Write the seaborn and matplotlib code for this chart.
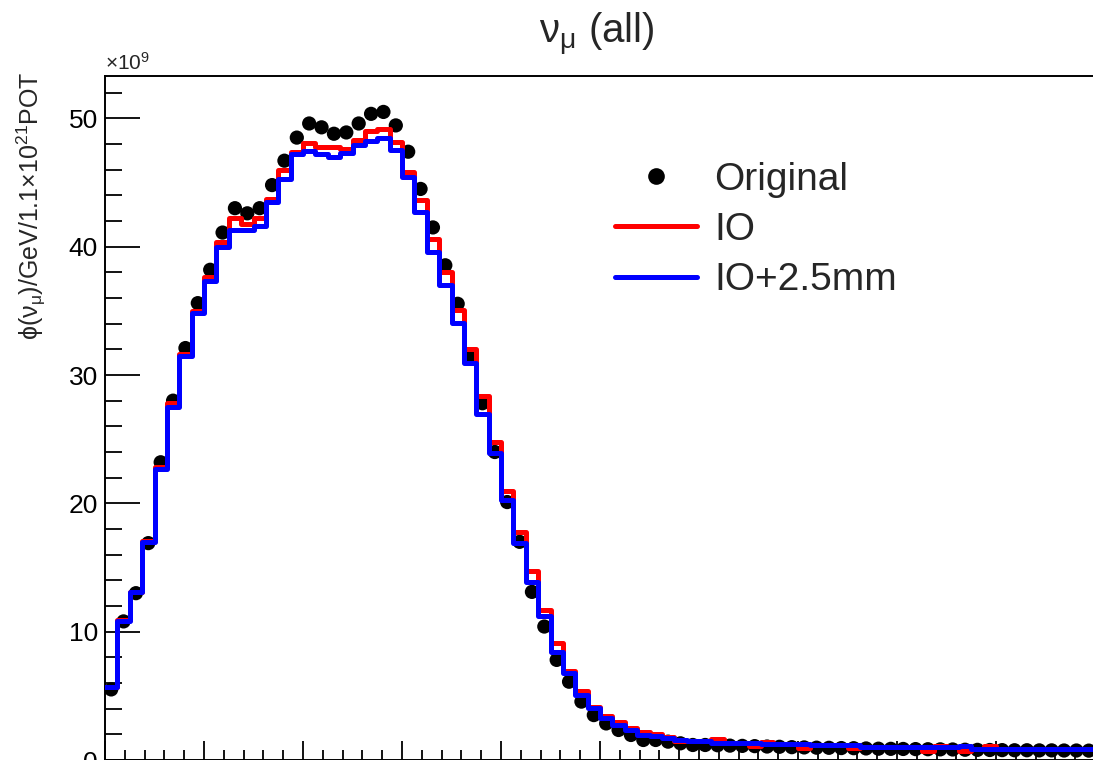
import numpy as np
import pandas as pd
import matplotlib
matplotlib.use("Agg")
import matplotlib.pyplot as plt
import seaborn as sns
from matplotlib.lines import Line2D
from matplotlib.ticker import MultipleLocator

# ---------------- data ----------------
energy_range = (0.0, 10.0)
n_bins = 80

original = [5.5, 10.8, 13.0, 16.9, 23.2, 28.0, 32.1, 35.6, 38.2, 41.1,
            43.0, 42.6, 43.0, 44.8, 46.7, 48.5, 49.6, 49.3, 48.8, 48.9,
            49.6, 50.35, 50.5, 49.45, 47.4, 44.5, 41.5, 38.55, 35.55, 31.4,
            27.8, 24.0, 20.1, 17.0, 13.1, 10.4, 7.8, 6.1, 4.55, 3.5,
            2.85, 2.34, 1.95, 1.56, 1.56, 1.43, 1.3, 1.17, 1.17, 1.15,
            1.12, 1.1, 1.08, 1.05, 1.03, 1.0, 0.98, 0.96, 0.95, 0.93,
            0.92, 0.9, 0.88, 0.87, 0.86, 0.85, 0.84, 0.83, 0.82, 0.8,
            0.79, 0.78, 0.77, 0.76, 0.76, 0.75, 0.75, 0.74, 0.74, 0.73]

io = [5.7, 10.9, 13.1, 17.1, 22.8, 27.8, 31.6, 35.0, 37.65, 40.35,
      42.2, 41.8, 42.25, 43.7, 45.95, 47.4, 48.1, 47.8, 47.75, 47.6,
      48.3, 49.0, 49.2, 48.15, 45.8, 43.6, 40.6, 38.05, 35.1, 32.0,
      28.4, 24.8, 20.97, 17.8, 14.7, 11.7, 9.1, 6.95, 5.37, 4.15,
      3.4, 2.95, 2.5, 2.18, 2.0, 1.8, 1.48, 1.5, 1.5, 1.61,
      1.35, 1.35, 1.09, 1.43, 1.25, 1.25, 0.91, 1.2, 1.2, 1.15,
      0.91, 1.0, 1.0, 1.0, 0.98, 0.98, 0.73, 1.09, 0.98, 0.73,
      0.85, 1.09, 0.83, 0.83, 0.83, 0.83, 0.83, 0.83, 0.83, 0.83]

io_25mm = [5.7, 10.8, 13.1, 17.0, 22.7, 27.5, 31.45, 34.8, 37.3, 40.0,
           41.3, 41.3, 41.6, 43.5, 45.3, 47.25, 47.45, 47.2, 47.0, 47.3,
           47.9, 48.2, 48.5, 47.5, 45.4, 42.7, 39.6, 37.05, 34.05, 30.9,
           27.0, 23.9, 20.25, 16.9, 13.9, 11.2, 8.45, 6.75, 5.06, 4.08,
           3.24, 2.73, 2.34, 1.95, 1.87, 1.69, 1.56, 1.5, 1.5, 1.35,
           1.35, 1.35, 1.35, 1.25, 1.25, 1.25, 1.25, 1.2, 1.2, 1.15,
           1.15, 1.0, 1.0, 1.0, 0.98, 0.98, 0.98, 0.98, 0.98, 1.09,
           0.85, 0.83, 0.83, 0.83, 0.83, 0.83, 0.83, 0.83, 0.83, 0.83]

y_ticks = [0, 10, 20, 30, 40, 50]
y_tick_labels = ["0", "10", "20", "30", "40", "50"]
series_labels = ["Original", "IO", "IO+2.5mm"]
series_colors = ["black", "#ff0000", "#0000ff"]
title_text = r"$\nu_{\mu}$ (all)"
ylabel_text = r"$\phi(\nu_{\mu})$/GeV/1.1$\times$10$^{21}$POT"

# ---------------- styling ----------------
sns.set_theme(style="ticks")
plt.rcParams["font.family"] = ["Liberation Sans", "DejaVu Sans"]
plt.rcParams["mathtext.fontset"] = "custom"
plt.rcParams["mathtext.rm"] = "Liberation Sans"
plt.rcParams["mathtext.it"] = "Liberation Sans:italic"
plt.rcParams["mathtext.default"] = "regular"

W, H = 1093, 760
fig = plt.figure(figsize=(W / 100, H / 100), dpi=100)
fig.patch.set_facecolor("white")
ax = fig.add_axes([105 / W, 0.0, 990 / W, 684 / H])
ax.set_facecolor("white")

width = (energy_range[1] - energy_range[0]) / n_bins
centers = energy_range[0] + width * (np.arange(n_bins) + 0.5)
df = pd.DataFrame({"E": centers, "orig": original, "io": io, "io25": io_25mm})

sns.scatterplot(data=df, x="E", y="orig", color=series_colors[0], s=105,
                edgecolor="none", ax=ax, zorder=2, legend=False)
sns.histplot(data=df, x="E", weights="io", bins=n_bins, binrange=energy_range,
             element="step", fill=False, color=series_colors[1],
             linewidth=3.6, ax=ax, zorder=3)
sns.histplot(data=df, x="E", weights="io25", bins=n_bins, binrange=energy_range,
             element="step", fill=False, color=series_colors[2],
             linewidth=3.6, ax=ax, zorder=4)

ax.set_xlim(*energy_range)
ax.set_ylim(0, 53.3)
ax.xaxis.set_major_locator(MultipleLocator(1))
ax.xaxis.set_minor_locator(MultipleLocator(0.2))
ax.set_yticks(y_ticks)
ax.set_yticklabels(y_tick_labels)
ax.yaxis.set_minor_locator(MultipleLocator(2))
ax.tick_params(which="both", direction="in", top=False, right=False,
               width=1.3, color="black", labelcolor="black")
ax.tick_params(axis="y", which="major", length=25, labelsize=19, pad=5)
ax.tick_params(axis="y", which="minor", length=12)
# x tick labels lie below the visible canvas in the reference
ax.tick_params(axis="x", which="major", length=14, labelbottom=False)
ax.tick_params(axis="x", which="minor", length=7)
ax.set_xlabel("")
ax.set_ylabel("")
for sp in ax.spines.values():
    sp.set_visible(True)
    sp.set_color("black")
    sp.set_linewidth(1.4)

# title, exponent and y-label
fig.text(597 / W, 1 - 35 / H, title_text, ha="center", va="center", fontsize=29)
ax.text(0.0, 1.003, r"$\times$10$^{9}$", transform=ax.transAxes,
        ha="left", va="bottom", fontsize=15)
fig.text(31 / W, 1 - 72 / H, ylabel_text, rotation=90, ha="center", va="top",
         fontsize=18)

# legend
handles = [
    Line2D([], [], linestyle="none", marker="o", markersize=12,
           color=series_colors[0], markeredgewidth=0),
    Line2D([], [], color=series_colors[1], linewidth=3.6),
    Line2D([], [], color=series_colors[2], linewidth=3.6),
]
ax.legend(handles, series_labels, loc="upper left",
          bbox_to_anchor=(0.515, 0.875), frameon=False, fontsize=28,
          handlelength=2.1, handletextpad=0.45, labelspacing=0.37,
          borderpad=0, borderaxespad=0)

fig.savefig("out.png", dpi=100)
